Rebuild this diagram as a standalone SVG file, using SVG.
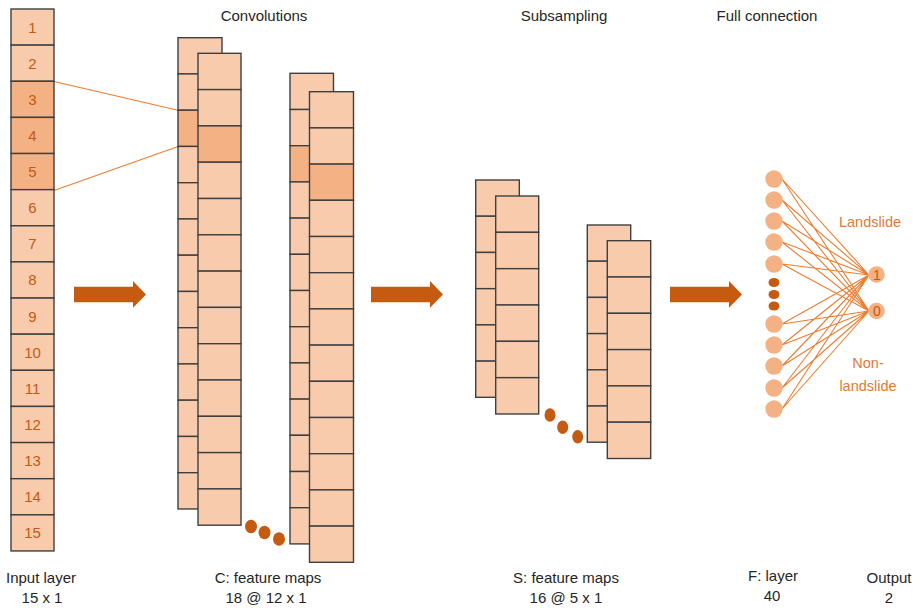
<svg xmlns="http://www.w3.org/2000/svg" width="921" height="612" viewBox="0 0 921 612">
<style>
.c{fill:#F8CBAD;stroke:#3F3F3F;stroke-width:1.4}
.h{fill:#F4B183;stroke:#3F3F3F;stroke-width:1.4}
.n{font-family:"Liberation Sans",Arial,sans-serif;font-size:15px;fill:#C55A11;text-anchor:middle}
.t{font-family:"Liberation Sans",Arial,sans-serif;font-size:15px;fill:#262626;text-anchor:middle}
.o{font-family:"Liberation Sans",Arial,sans-serif;font-size:14.5px;fill:#E07A35;text-anchor:middle}
.ln{stroke:#ED7D31;stroke-width:1.1;fill:none}
.dot{fill:#C55A11}
.fn{fill:#F4B183}
.ar{fill:#C55A11}
</style>
<rect width="921" height="612" fill="#fff"/>

<g id="connectors">
  <line class="ln" x1="54" y1="81.5" x2="178" y2="110.3"/>
  <line class="ln" x1="54" y1="190.5" x2="178" y2="146.6"/>
  <g id="fc-lines">
    <path class="ln" d="M782 179L869 275M782 179L869 311M782 200L869 275M782 200L869 311M782 221L869 275M782 221L869 311M782 242L869 275M782 242L869 311M782 264L869 275M782 264L869 311M782 324L869 275M782 324L869 311M782 345L869 275M782 345L869 311M782 366L869 275M782 366L869 311M782 388L869 275M782 388L869 311M782 409L869 275M782 409L869 311"/>
  </g>
  <path id="arrow1" class="ar" d="M74 286.7H133V281L146 294.5L133 307.7V302.3H74Z"/>
  <path id="arrow2" class="ar" d="M371 286.7H430V281L443 294.5L430 307.7V302.3H371Z"/>
  <path id="arrow3" class="ar" d="M670 286.7H729V281L742 294.5L729 307.7V302.3H670Z"/>
</g>

<g id="input-layer">
  <rect class="c" x="11" y="9" width="43" height="36.13"/>
  <rect class="c" x="11" y="45.13" width="43" height="36.13"/>
  <rect class="h" x="11" y="81.26" width="43" height="36.13"/>
  <rect class="h" x="11" y="117.39" width="43" height="36.13"/>
  <rect class="h" x="11" y="153.52" width="43" height="36.13"/>
  <rect class="c" x="11" y="189.65" width="43" height="36.13"/>
  <rect class="c" x="11" y="225.78" width="43" height="36.13"/>
  <rect class="c" x="11" y="261.91" width="43" height="36.13"/>
  <rect class="c" x="11" y="298.04" width="43" height="36.13"/>
  <rect class="c" x="11" y="334.17" width="43" height="36.13"/>
  <rect class="c" x="11" y="370.3" width="43" height="36.13"/>
  <rect class="c" x="11" y="406.43" width="43" height="36.13"/>
  <rect class="c" x="11" y="442.56" width="43" height="36.13"/>
  <rect class="c" x="11" y="478.69" width="43" height="36.13"/>
  <rect class="c" x="11" y="514.82" width="43" height="36.13"/>
  <text class="n" x="32.5" y="32.5">1</text>
  <text class="n" x="32.5" y="68.5">2</text>
  <text class="n" x="32.5" y="104.5">3</text>
  <text class="n" x="32.5" y="140.5">4</text>
  <text class="n" x="32.5" y="177">5</text>
  <text class="n" x="32.5" y="213">6</text>
  <text class="n" x="32.5" y="249">7</text>
  <text class="n" x="32.5" y="285">8</text>
  <text class="n" x="32.5" y="321.5">9</text>
  <text class="n" x="32.5" y="357.5">10</text>
  <text class="n" x="32.5" y="393.5">11</text>
  <text class="n" x="32.5" y="429.5">12</text>
  <text class="n" x="32.5" y="466">13</text>
  <text class="n" x="32.5" y="502">14</text>
  <text class="n" x="32.5" y="538">15</text>
</g>

<g id="conv-map-1-back">
  <rect class="c" x="178" y="37.7" width="44" height="36.25"/>
  <rect class="c" x="178" y="73.95" width="44" height="36.25"/>
  <rect class="h" x="178" y="110.2" width="44" height="36.25"/>
  <rect class="c" x="178" y="146.45" width="44" height="36.25"/>
  <rect class="c" x="178" y="182.7" width="44" height="36.25"/>
  <rect class="c" x="178" y="218.95" width="44" height="36.25"/>
  <rect class="c" x="178" y="255.2" width="44" height="36.25"/>
  <rect class="c" x="178" y="291.45" width="44" height="36.25"/>
  <rect class="c" x="178" y="327.7" width="44" height="36.25"/>
  <rect class="c" x="178" y="363.95" width="44" height="36.25"/>
  <rect class="c" x="178" y="400.2" width="44" height="36.25"/>
  <rect class="c" x="178" y="436.45" width="44" height="36.25"/>
  <rect class="c" x="178" y="472.7" width="44" height="36.25"/>
</g>
<g id="conv-map-1-front">
  <rect class="c" x="198" y="53.3" width="43" height="36.3"/>
  <rect class="c" x="198" y="89.6" width="43" height="36.3"/>
  <rect class="h" x="198" y="125.9" width="43" height="36.3"/>
  <rect class="c" x="198" y="162.2" width="43" height="36.3"/>
  <rect class="c" x="198" y="198.5" width="43" height="36.3"/>
  <rect class="c" x="198" y="234.8" width="43" height="36.3"/>
  <rect class="c" x="198" y="271.1" width="43" height="36.3"/>
  <rect class="c" x="198" y="307.4" width="43" height="36.3"/>
  <rect class="c" x="198" y="343.7" width="43" height="36.3"/>
  <rect class="c" x="198" y="380" width="43" height="36.3"/>
  <rect class="c" x="198" y="416.3" width="43" height="36.3"/>
  <rect class="c" x="198" y="452.6" width="43" height="36.3"/>
  <rect class="c" x="198" y="488.9" width="43" height="36.3"/>
</g>
<g id="conv-dots">
  <ellipse class="dot" cx="251" cy="526.5" rx="6" ry="6.8"/>
  <ellipse class="dot" cx="264.5" cy="532.5" rx="6" ry="6.8"/>
  <ellipse class="dot" cx="279" cy="539" rx="6" ry="6.8"/>
</g>
<g id="conv-map-2-back">
  <rect class="c" x="290" y="73.3" width="43.5" height="36.2"/>
  <rect class="c" x="290" y="109.5" width="43.5" height="36.2"/>
  <rect class="h" x="290" y="145.7" width="43.5" height="36.2"/>
  <rect class="c" x="290" y="181.9" width="43.5" height="36.2"/>
  <rect class="c" x="290" y="218.1" width="43.5" height="36.2"/>
  <rect class="c" x="290" y="254.3" width="43.5" height="36.2"/>
  <rect class="c" x="290" y="290.5" width="43.5" height="36.2"/>
  <rect class="c" x="290" y="326.7" width="43.5" height="36.2"/>
  <rect class="c" x="290" y="362.9" width="43.5" height="36.2"/>
  <rect class="c" x="290" y="399.1" width="43.5" height="36.2"/>
  <rect class="c" x="290" y="435.3" width="43.5" height="36.2"/>
  <rect class="c" x="290" y="471.5" width="43.5" height="36.2"/>
  <rect class="c" x="290" y="507.7" width="43.5" height="36.2"/>
</g>
<g id="conv-map-2-front">
  <rect class="c" x="309.5" y="91.7" width="44" height="36.2"/>
  <rect class="c" x="309.5" y="127.9" width="44" height="36.2"/>
  <rect class="h" x="309.5" y="164.1" width="44" height="36.2"/>
  <rect class="c" x="309.5" y="200.3" width="44" height="36.2"/>
  <rect class="c" x="309.5" y="236.5" width="44" height="36.2"/>
  <rect class="c" x="309.5" y="272.7" width="44" height="36.2"/>
  <rect class="c" x="309.5" y="308.9" width="44" height="36.2"/>
  <rect class="c" x="309.5" y="345.1" width="44" height="36.2"/>
  <rect class="c" x="309.5" y="381.3" width="44" height="36.2"/>
  <rect class="c" x="309.5" y="417.5" width="44" height="36.2"/>
  <rect class="c" x="309.5" y="453.7" width="44" height="36.2"/>
  <rect class="c" x="309.5" y="489.9" width="44" height="36.2"/>
  <rect class="c" x="309.5" y="526.1" width="44" height="36.2"/>
</g>

<g id="sub-map-1-back">
  <rect class="c" x="475.7" y="180" width="43.6" height="36.22"/>
  <rect class="c" x="475.7" y="216.22" width="43.6" height="36.22"/>
  <rect class="c" x="475.7" y="252.44" width="43.6" height="36.22"/>
  <rect class="c" x="475.7" y="288.66" width="43.6" height="36.22"/>
  <rect class="c" x="475.7" y="324.88" width="43.6" height="36.22"/>
  <rect class="c" x="475.7" y="361.1" width="43.6" height="36.22"/>
</g>
<g id="sub-map-1-front">
  <rect class="c" x="495.7" y="196" width="43" height="36.33"/>
  <rect class="c" x="495.7" y="232.33" width="43" height="36.33"/>
  <rect class="c" x="495.7" y="268.66" width="43" height="36.33"/>
  <rect class="c" x="495.7" y="304.99" width="43" height="36.33"/>
  <rect class="c" x="495.7" y="341.32" width="43" height="36.33"/>
  <rect class="c" x="495.7" y="377.65" width="43" height="36.33"/>
</g>
<g id="sub-dots">
  <ellipse class="dot" cx="550" cy="415" rx="5.5" ry="6.8"/>
  <ellipse class="dot" cx="562.7" cy="427.3" rx="5.5" ry="6.8"/>
  <ellipse class="dot" cx="577.7" cy="436.7" rx="5.5" ry="6.8"/>
</g>
<g id="sub-map-2-back">
  <rect class="c" x="587.3" y="225" width="43.4" height="36.2"/>
  <rect class="c" x="587.3" y="261.2" width="43.4" height="36.2"/>
  <rect class="c" x="587.3" y="297.4" width="43.4" height="36.2"/>
  <rect class="c" x="587.3" y="333.6" width="43.4" height="36.2"/>
  <rect class="c" x="587.3" y="369.8" width="43.4" height="36.2"/>
  <rect class="c" x="587.3" y="406" width="43.4" height="36.2"/>
</g>
<g id="sub-map-2-front">
  <rect class="c" x="607.3" y="240.7" width="43.4" height="36.3"/>
  <rect class="c" x="607.3" y="277" width="43.4" height="36.3"/>
  <rect class="c" x="607.3" y="313.3" width="43.4" height="36.3"/>
  <rect class="c" x="607.3" y="349.6" width="43.4" height="36.3"/>
  <rect class="c" x="607.3" y="385.9" width="43.4" height="36.3"/>
  <rect class="c" x="607.3" y="422.2" width="43.4" height="36.3"/>
</g>

<g id="f-layer">
  <circle class="fn" cx="774" cy="179" r="8.7"/>
  <circle class="fn" cx="774" cy="200" r="8.7"/>
  <circle class="fn" cx="774" cy="221" r="8.7"/>
  <circle class="fn" cx="774" cy="242" r="8.7"/>
  <circle class="fn" cx="774" cy="264" r="8.7"/>
  <ellipse class="dot" cx="774" cy="282.5" rx="5.5" ry="4.6"/>
  <ellipse class="dot" cx="774" cy="294.5" rx="5.5" ry="4.6"/>
  <ellipse class="dot" cx="774" cy="306" rx="5.5" ry="4.6"/>
  <circle class="fn" cx="774" cy="324" r="8.7"/>
  <circle class="fn" cx="774" cy="345" r="8.7"/>
  <circle class="fn" cx="774" cy="366" r="8.7"/>
  <circle class="fn" cx="774" cy="388" r="8.7"/>
  <circle class="fn" cx="774" cy="409" r="8.7"/>
</g>
<g id="output-1">
  <circle class="fn" cx="876.5" cy="274.5" r="8.3"/>
  <text class="n" x="877" y="279.5" style="font-size:14px">1</text>
</g>
<g id="output-0">
  <circle class="fn" cx="876.5" cy="311" r="8.3"/>
  <text class="n" x="877" y="316" style="font-size:14px">0</text>
</g>
<g id="class-labels">
  <text class="o" x="870" y="227">Landslide</text>
  <text class="o" x="868" y="368">Non-</text>
  <text class="o" x="868" y="391">landslide</text>
</g>

<g id="titles">
  <text class="t" x="264" y="21">Convolutions</text>
  <text class="t" x="564" y="21">Subsampling</text>
  <text class="t" x="767" y="21">Full connection</text>
</g>
<g id="captions">
  <text class="t" x="41" y="583">Input layer</text>
  <text class="t" x="42" y="603">15 x 1</text>
  <text class="t" x="268" y="583">C: feature maps</text>
  <text class="t" x="266" y="603">18 @ 12 x 1</text>
  <text class="t" x="566" y="583">S: feature maps</text>
  <text class="t" x="566" y="603">16 @ 5 x 1</text>
  <text class="t" x="773" y="581">F: layer</text>
  <text class="t" x="772" y="601">40</text>
  <text class="t" x="889" y="583">Output</text>
  <text class="t" x="889" y="603">2</text>
</g>
</svg>
